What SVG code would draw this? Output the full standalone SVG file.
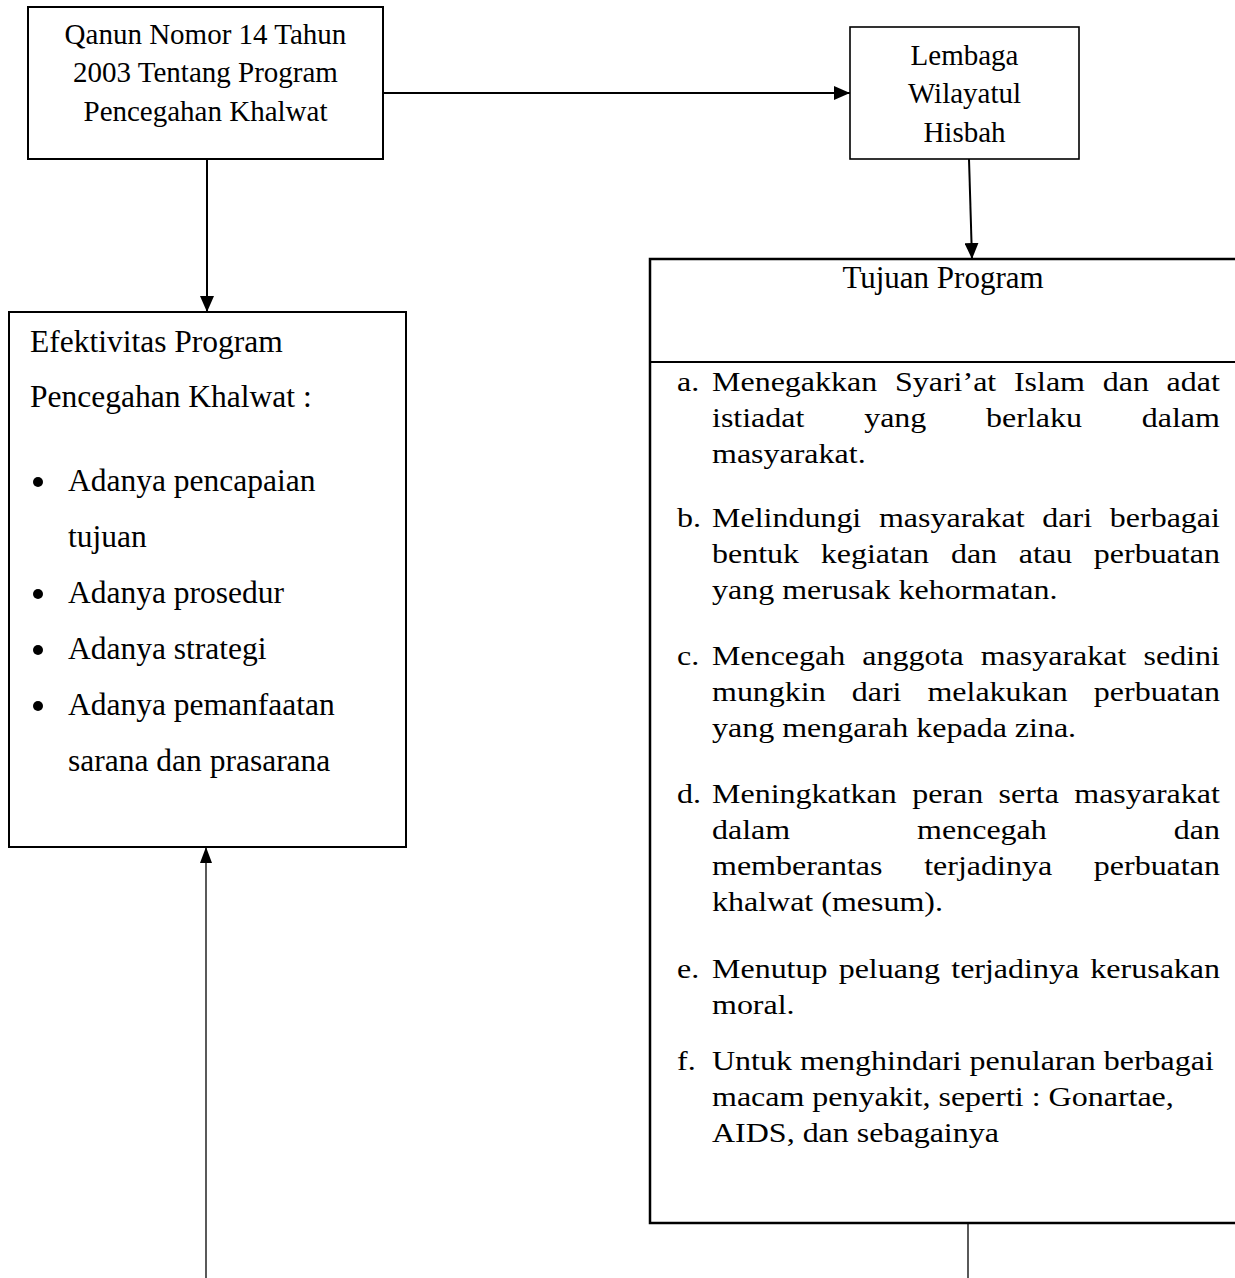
<svg xmlns="http://www.w3.org/2000/svg" width="1235" height="1278" viewBox="0 0 1235 1278">
<style>
.box{fill:#fff;stroke:#000;stroke-width:2}
.t{font-family:"Liberation Serif","Times New Roman",serif;fill:#000}
.c{text-anchor:middle}
.conn{stroke:#000;stroke-width:2;fill:none}
.thin{stroke:#000;stroke-width:1.3;fill:none}
</style>
<defs>
<marker id="ah" markerUnits="userSpaceOnUse" markerWidth="16" markerHeight="14" refX="16" refY="7" orient="auto">
<path d="M0,0 L16,7 L0,14 z" fill="#000"/>
</marker>
<marker id="ahs" markerUnits="userSpaceOnUse" markerWidth="16" markerHeight="12" refX="16" refY="6" orient="auto">
<path d="M0,0 L16,6 L0,12 z" fill="#000"/>
</marker>
</defs>
<rect width="1235" height="1278" fill="#fff"/>

<g id="connectors">
<line class="conn" x1="383" y1="93" x2="850" y2="93" marker-end="url(#ah)"/>
<line class="conn" x1="207" y1="159" x2="207" y2="312" marker-end="url(#ah)"/>
<line class="conn" x1="969" y1="159" x2="972" y2="259" marker-end="url(#ah)"/>
<line class="thin" x1="206" y1="1278" x2="206" y2="847" marker-end="url(#ahs)"/>
<line class="thin" x1="968" y1="1223" x2="968" y2="1278"/>
</g>

<g id="node-qanun">
<rect class="box" x="28" y="7" width="355" height="152"/>
<text class="t c" font-size="29" x="205.5" y="44">Qanun Nomor 14 Tahun</text>
<text class="t c" font-size="29" x="205.5" y="82">2003 Tentang Program</text>
<text class="t c" font-size="29" x="205.5" y="121">Pencegahan Khalwat</text>
</g>

<g id="node-lembaga">
<rect class="box" x="850" y="27" width="229" height="132" style="stroke-width:1.6"/>
<text class="t c" font-size="29" x="964.5" y="65">Lembaga</text>
<text class="t c" font-size="29" x="964.5" y="103">Wilayatul</text>
<text class="t c" font-size="29" x="964.5" y="142">Hisbah</text>
</g>

<g id="node-efektivitas">
<rect class="box" x="9" y="312" width="397" height="535"/>
<text class="t" font-size="31.5" x="30" y="352">Efektivitas Program</text>
<text class="t" font-size="31.5" x="30" y="407">Pencegahan Khalwat :</text>
<circle cx="38" cy="482" r="5"/>
<text class="t" font-size="31.5" x="68" y="491">Adanya pencapaian</text>
<text class="t" font-size="31.5" x="68" y="547">tujuan</text>
<circle cx="38" cy="594" r="5"/>
<text class="t" font-size="31.5" x="68" y="603">Adanya prosedur</text>
<circle cx="38" cy="650" r="5"/>
<text class="t" font-size="31.5" x="68" y="659">Adanya strategi</text>
<circle cx="38" cy="706" r="5"/>
<text class="t" font-size="31.5" x="68" y="715">Adanya pemanfaatan</text>
<text class="t" font-size="31.5" x="68" y="771">sarana dan prasarana</text>
</g>

<g id="node-tujuan">
<rect class="box" x="650" y="259" width="590" height="964" style="stroke-width:2.5"/>
<line class="conn" x1="650" y1="362" x2="1240" y2="362"/>
<text class="t c" font-size="31" x="943" y="288">Tujuan Program</text>
<g transform="translate(712 0) scale(1.185 1)" class="t" font-size="27">
<text y="391"><tspan x="-29.5">a.</tspan><tspan x="0">Menegakkan</tspan><tspan x="154.4">Syari’at</tspan><tspan x="254.8">Islam</tspan><tspan x="329.7">dan</tspan><tspan x="383.6">adat</tspan></text>
<text y="427"><tspan x="0">istiadat</tspan><tspan x="128.4">yang</tspan><tspan x="231.3">berlaku</tspan><tspan x="362.7">dalam</tspan></text>
<text y="463" x="0">masyarakat.</text>
<text y="527"><tspan x="-29.5">b.</tspan><tspan x="0">Melindungi</tspan><tspan x="140.9">masyarakat</tspan><tspan x="278.8">dari</tspan><tspan x="335.7">berbagai</tspan></text>
<text y="563"><tspan x="0">bentuk</tspan><tspan x="91.8">kegiatan</tspan><tspan x="201.6">dan</tspan><tspan x="258.9">atau</tspan><tspan x="322.2">perbuatan</tspan></text>
<text y="599" x="0">yang merusak kehormatan.</text>
<text y="665"><tspan x="-29.5">c.</tspan><tspan x="0">Mencegah</tspan><tspan x="126.9">anggota</tspan><tspan x="226.8">masyarakat</tspan><tspan x="364.2">sedini</tspan></text>
<text y="701"><tspan x="0">mungkin</tspan><tspan x="117.9">dari</tspan><tspan x="181.8">melakukan</tspan><tspan x="322.2">perbuatan</tspan></text>
<text y="737" x="0">yang mengarah kepada zina.</text>
<text y="803"><tspan x="-29.5">d.</tspan><tspan x="0">Meningkatkan</tspan><tspan x="168.9">peran</tspan><tspan x="241.8">serta</tspan><tspan x="305.7">masyarakat</tspan></text>
<text y="839"><tspan x="0">dalam</tspan><tspan x="173.1">mencegah</tspan><tspan x="389.7">dan</tspan></text>
<text y="875"><tspan x="0">memberantas</tspan><tspan x="179.1">terjadinya</tspan><tspan x="322.2">perbuatan</tspan></text>
<text y="911" x="0">khalwat (mesum).</text>
<text y="978"><tspan x="-29.5">e.</tspan><tspan x="0">Menutup</tspan><tspan x="106.9">peluang</tspan><tspan x="201.9">terjadinya</tspan><tspan x="319.3">kerusakan</tspan></text>
<text y="1014" x="0">moral.</text>
<text y="1070"><tspan x="-29.5">f.</tspan><tspan x="0">Untuk menghindari penularan berbagai</tspan></text>
<text y="1106" x="0">macam penyakit, seperti : Gonartae,</text>
<text y="1142" x="0">AIDS, dan sebagainya</text>
</g>
</g>
</svg>
